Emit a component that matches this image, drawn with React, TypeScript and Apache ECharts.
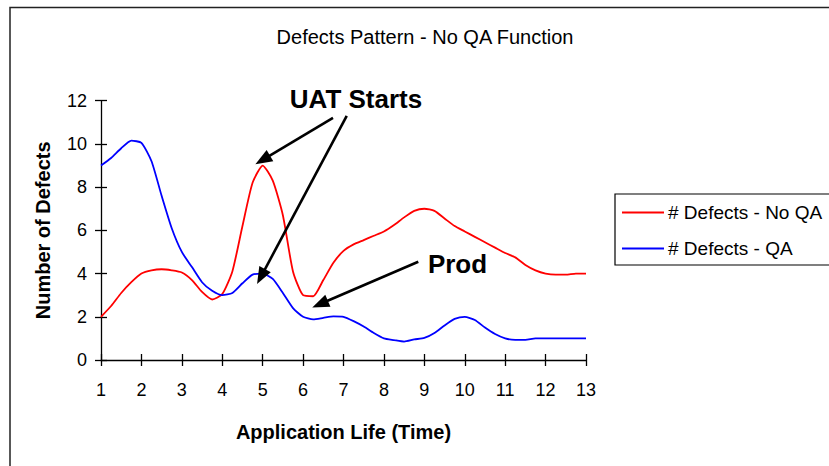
import React, { useEffect, useRef } from "react";
import * as echarts from "echarts";

const titleText = "Defects Pattern - No QA Function";
const xName = "Application Life (Time)";
const yName = "Number of Defects";
const seriesNames = ["# Defects - No QA", "# Defects - QA"];

const times = [
  1, 1.25, 1.5, 1.75, 2, 2.25, 2.5, 2.75, 3, 3.25, 3.5, 3.75, 4, 4.25, 4.5, 4.75,
  5, 5.25, 5.5, 5.75, 6, 6.25, 6.5, 6.75, 7, 7.25, 7.5, 7.75, 8, 8.25, 8.5, 8.75,
  9, 9.25, 9.5, 9.75, 10, 10.25, 10.5, 10.75, 11, 11.25, 11.5, 11.75, 12, 12.25,
  12.5, 12.75, 13,
];

const defectsNoQA = [
  2.0, 2.5, 3.1, 3.6, 4.0, 4.15, 4.2, 4.15, 4.05, 3.7, 3.15, 2.8, 3.05, 4.1, 6.2, 8.2,
  9.0, 8.3, 6.7, 4.1, 3.0, 2.95, 3.7, 4.5, 5.05, 5.35, 5.55, 5.75, 5.95, 6.25, 6.6, 6.9,
  7.0, 6.9, 6.55, 6.2, 5.95, 5.7, 5.45, 5.2, 4.95, 4.75, 4.4, 4.15, 4.0, 3.95,
  3.95, 4.0, 4.0,
];

const defectsQA = [
  9.0, 9.35, 9.8, 10.15, 10.05, 9.2, 7.6, 6.1, 5.0, 4.3, 3.6, 3.2, 3.0, 3.1, 3.55, 3.95,
  4.0, 3.75, 3.1, 2.4, 2.0, 1.88, 1.95, 2.02, 2.0, 1.8, 1.55, 1.25, 1.0, 0.92, 0.85, 0.95,
  1.02, 1.25, 1.6, 1.9, 2.0, 1.85, 1.5, 1.2, 1.0, 0.93, 0.93, 1.0, 1.0, 1.0,
  1.0, 1.0, 1.0,
];

// annotation arrows in data coordinates: [fromX, fromY, toX, toY]
const uatArrows = [
  [6.74, 11.2, 5.0, 9.26],
  [7.08, 11.3, 4.96, 3.86],
];
const prodArrows = [[8.85, 4.55, 6.42, 2.59]];

const FONT = "'Liberation Sans', Arial, sans-serif";

export default function App() {
  const ref = useRef<HTMLDivElement>(null);

  useEffect(() => {
    if (!ref.current) return;
    const chart = echarts.init(ref.current, undefined, { renderer: "svg" });

    const arrowData = [...uatArrows, ...prodArrows].map((a) => [
      { coord: [a[0], a[1]] },
      { coord: [a[2], a[3]] },
    ]);

    chart.setOption({
      animation: false,
      backgroundColor: "#ffffff",
      textStyle: { fontFamily: FONT },
      grid: { left: 101, right: 243, top: 100.7, bottom: 106, containLabel: false },
      legend: {
        left: 615,
        top: 194,
        orient: "vertical",
        data: seriesNames,
        icon: "rect",
        borderColor: "#000",
        borderWidth: 1.2,
        borderRadius: 0,
        padding: [8, 30, 6, 7],
        itemGap: 15,
        itemWidth: 42,
        itemHeight: 1.8,
        textStyle: { fontFamily: FONT, fontSize: 19, color: "#000", lineHeight: 21, padding: [0, 0, 0, -1] },
      },
      xAxis: [
        {
          type: "value",
          min: 1,
          max: 13,
          interval: 1,
          position: "bottom",
          name: xName,
          nameLocation: "middle",
          nameGap: 62,
          nameTextStyle: { fontFamily: FONT, fontSize: 20, fontWeight: "bold", color: "#000" },
          axisLine: { show: true, onZero: false, lineStyle: { color: "#000", width: 1.3 } },
          axisTick: { show: true, length: 6, lineStyle: { color: "#000", width: 1.3 } },
          axisLabel: { fontFamily: FONT, fontSize: 18, color: "#000", margin: 21 },
          splitLine: { show: false },
        },
        {
          type: "value",
          min: 1,
          max: 13,
          interval: 1,
          position: "bottom",
          axisLine: { show: false, onZero: false },
          axisTick: { show: true, inside: true, length: 6, lineStyle: { color: "#000", width: 1.3 } },
          axisLabel: { show: false },
          splitLine: { show: false },
        },
      ],
      yAxis: [
        {
          type: "value",
          min: 0,
          max: 12,
          interval: 2,
          position: "left",
          name: yName,
          nameLocation: "middle",
          nameGap: 48,
          nameTextStyle: { fontFamily: FONT, fontSize: 20, fontWeight: "bold", color: "#000" },
          axisLine: { show: true, onZero: false, lineStyle: { color: "#000", width: 1.3 } },
          axisTick: { show: true, length: 6, lineStyle: { color: "#000", width: 1.3 } },
          axisLabel: { fontFamily: FONT, fontSize: 18, color: "#000", margin: 14 },
          splitLine: { show: false },
        },
        {
          type: "value",
          min: 0,
          max: 12,
          interval: 2,
          position: "left",
          axisLine: { show: false, onZero: false },
          axisTick: { show: true, inside: true, length: 6, lineStyle: { color: "#000", width: 1.3 } },
          axisLabel: { show: false },
          splitLine: { show: false },
        },
      ],
      series: [
        {
          name: seriesNames[0],
          type: "line",
          xAxisIndex: 0,
          yAxisIndex: 0,
          data: times.map((t, i) => [t, defectsNoQA[i]]),
          symbol: "none",
          smooth: 0.2,
          lineStyle: { color: "#ff0000", width: 1.8 },
          itemStyle: { color: "#ff0000" },
          z: 3,
        },
        {
          name: seriesNames[1],
          type: "line",
          xAxisIndex: 0,
          yAxisIndex: 0,
          data: times.map((t, i) => [t, defectsQA[i]]),
          symbol: "none",
          smooth: 0.2,
          lineStyle: { color: "#0000ff", width: 1.8 },
          itemStyle: { color: "#0000ff" },
          z: 3,
          markLine: {
            silent: true,
            symbol: ["none", "triangle"],
            symbolSize: [13, 17],
            label: { show: false },
            lineStyle: { color: "#000", width: 2.6, type: "solid" },
            itemStyle: { color: "#000" },
            data: arrowData,
            z: 5,
          },
        },
      ],
      graphic: [
        {
          type: "rect",
          shape: { x: 10, y: 7.5, width: 900, height: 600 },
          style: { fill: "none", stroke: "#222", lineWidth: 1.5 },
          silent: true,
          z: -10,
        },
        {
          type: "text",
          x: 425,
          y: 37,
          style: {
            text: titleText,
            fontFamily: FONT,
            fontSize: 20,
            fill: "#000",
            textAlign: "center",
            textVerticalAlign: "middle",
          },
        },
        {
          type: "text",
          x: 356,
          y: 98.5,
          style: {
            text: "UAT Starts",
            fontFamily: FONT,
            fontSize: 26,
            fontWeight: "bold",
            fill: "#000",
            textAlign: "center",
            textVerticalAlign: "middle",
          },
        },
        {
          type: "text",
          x: 457.5,
          y: 264,
          style: {
            text: "Prod",
            fontFamily: FONT,
            fontSize: 26,
            fontWeight: "bold",
            fill: "#000",
            textAlign: "center",
            textVerticalAlign: "middle",
          },
        },
      ],
    });

    return () => chart.dispose();
  }, []);

  return (
    <div
      ref={ref}
      style={{ position: "fixed", left: 0, top: 0, width: 829, height: 466, background: "#fff" }}
    />
  );
}
